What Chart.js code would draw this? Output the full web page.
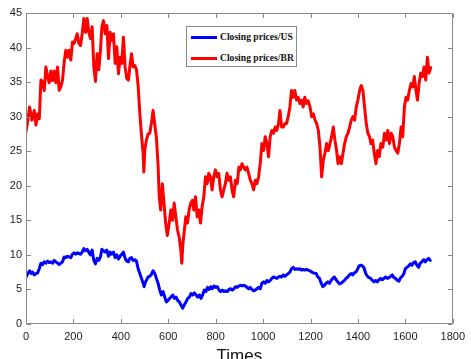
<!DOCTYPE html>
<html><head><meta charset="utf-8">
<script src="https://cdn.jsdelivr.net/npm/chart.js@4"></script>
<style>
html,body{margin:0;padding:0;background:#fff;overflow:hidden;}
#wrap{position:relative;width:471px;height:359px;}
#legend{position:absolute;left:186px;top:26px;width:111px;height:41px;border:1px solid #8a8a8a;background:#fff;box-sizing:border-box;font-family:"Liberation Serif","DejaVu Serif",serif;font-weight:bold;font-size:9.6px;color:#111;}
.row{position:absolute;left:0;width:100%;height:12px;}
.sw{position:absolute;left:4px;top:5px;width:26px;height:2.6px;}
.lab{position:absolute;left:33px;top:0;line-height:12px;white-space:nowrap;}
</style>
</head><body>
<div id="wrap">
<canvas id="c" width="471" height="359"></canvas>
<div id="legend">
  <div class="row" style="top:4px"><span class="sw" style="background:#0000ff"></span><span class="lab" id="l0"></span></div>
  <div class="row" style="top:25px"><span class="sw" style="background:#ff0000"></span><span class="lab" id="l1"></span></div>
</div>
</div>
<script>
const seriesNames = ["Closing prices/US", "Closing prices/BR"];
const xTicks = [0,200,400,600,800,1000,1200,1400,1600,1800];
const yTicks = [0,5,10,15,20,25,30,35,40,45];
const xLabel = "Times";

const usTimes = [0,8,15,22,28,35,42,49,56,63,70,77,84,91,98,105,112,119,126,133,140,147,154,161,168,175,182,189,196,203,210,216,223,230,237,244,251,258,265,272,279,286,293,300,307,314,320,327,334,341,348,355,362,369,376,383,390,397,404,411,418,425,432,438,445,452,459,466,473,480,487,494,498,504,515,522,529,536,543,550,557,564,571,578,585,592,599,606,612,619,626,633,640,647,654,661,668,675,682,689,696,703,710,717,724,731,738,745,752,759,766,773,780,786,793,800,807,814,821,828,835,842,849,856,863,870,877,884,891,898,904,911,918,925,932,939,946,953,960,967,974,981,988,995,1002,1009,1016,1023,1030,1037,1044,1051,1058,1065,1071,1078,1085,1092,1099,1106,1113,1120,1127,1134,1141,1148,1155,1162,1169,1176,1183,1197,1211,1224,1231,1238,1245,1252,1259,1266,1273,1280,1287,1294,1301,1308,1315,1322,1329,1336,1343,1350,1357,1364,1371,1378,1384,1391,1398,1405,1412,1419,1426,1433,1440,1447,1454,1461,1468,1475,1482,1489,1496,1503,1510,1517,1524,1531,1538,1545,1552,1559,1566,1573,1580,1587,1594,1600,1607,1614,1621,1628,1635,1642,1649,1656,1663,1670,1677,1684,1691,1698,1705];
const usPrices = [6.8,7.3,7.7,7.3,7.5,7.1,7.3,7.4,8.0,8.8,8.6,9.0,8.8,9.1,8.9,9.0,8.8,9.2,9.0,8.8,8.6,8.8,9.0,9.7,9.6,9.8,9.7,9.6,10.1,10.3,10.1,10.3,10.2,10.1,10.4,10.9,10.6,10.8,10.4,10.0,10.7,9.2,8.7,9.5,9.2,9.7,10.8,10.6,10.4,10.7,9.8,10.4,10.1,10.4,9.6,10.0,9.4,9.8,10.1,10.4,9.5,9.1,9.0,9.5,9.6,9.2,9.3,9.1,8.0,7.3,6.6,5.9,5.4,6.1,6.8,6.9,7.2,7.7,7.3,6.6,5.9,4.9,4.2,4.7,3.9,3.2,3.4,3.7,3.9,4.2,3.7,3.9,3.4,3.2,2.7,2.3,2.8,3.2,3.7,3.9,4.4,4.2,4.5,4.2,3.9,4.2,3.7,4.2,4.9,4.7,5.3,5.0,5.4,5.1,5.5,5.3,5.4,4.9,4.7,4.9,4.7,4.8,4.7,5.0,5.1,4.9,5.1,5.4,5.3,5.5,5.6,5.5,5.6,5.5,5.3,5.1,5.3,5.0,4.8,4.9,5.1,5.3,5.1,5.9,6.1,5.9,6.3,6.1,6.3,6.6,6.8,6.7,6.6,6.8,6.9,6.8,7.1,6.9,7.1,7.3,7.5,8.0,8.2,7.9,8.0,7.9,8.0,7.8,7.9,7.8,7.9,7.7,7.4,7.3,6.8,6.6,5.9,5.4,5.6,5.9,6.1,5.9,6.3,6.6,6.8,6.4,6.1,5.8,5.9,6.1,6.3,6.6,6.8,7.1,7.3,7.1,7.4,7.5,7.9,8.4,8.5,8.4,8.1,7.3,6.9,6.7,6.6,6.3,6.1,6.3,6.1,6.4,6.6,6.4,6.6,6.8,6.6,6.7,6.9,7.1,6.7,6.6,6.3,6.2,6.7,6.9,7.3,8.0,8.2,8.4,8.7,8.5,8.9,9.0,8.5,8.2,8.8,9.0,9.3,9.0,9.3,9.5,9.2];

const brTimes = [0,8,15,25,35,42,49,56,63,70,77,84,91,98,105,112,119,126,133,140,147,154,161,168,175,182,189,196,203,210,216,223,230,237,244,251,258,265,272,279,286,293,300,307,314,320,327,334,341,348,355,362,369,376,383,390,397,404,411,418,425,432,438,445,452,459,466,473,480,487,494,497,501,508,515,522,529,536,543,550,557,562,568,575,582,589,596,604,611,618,625,632,639,646,653,657,662,668,674,681,688,695,702,708,715,722,729,736,743,750,757,764,771,778,785,792,799,806,813,820,827,834,841,848,855,862,869,876,883,891,898,904,911,918,925,932,939,946,953,960,967,974,981,988,995,1002,1009,1016,1023,1030,1037,1044,1051,1058,1065,1071,1078,1085,1092,1099,1106,1113,1120,1127,1134,1141,1148,1155,1162,1169,1176,1183,1190,1198,1205,1212,1219,1226,1233,1240,1247,1254,1261,1268,1275,1282,1289,1296,1303,1310,1316,1323,1330,1337,1344,1351,1358,1365,1372,1379,1386,1393,1400,1407,1414,1421,1428,1435,1442,1449,1455,1462,1469,1476,1483,1490,1497,1505,1512,1519,1526,1533,1540,1547,1554,1561,1568,1575,1582,1589,1596,1603,1610,1617,1624,1631,1638,1645,1651,1658,1665,1672,1679,1686,1693,1700,1707];
const brPrices = [27.8,29.5,31.4,29.5,30.9,28.8,30.4,29.7,35.3,35.0,33.8,37.2,35.8,34.9,36.6,35.2,36.6,34.9,37.2,33.8,34.3,35.3,37.9,39.6,38.6,39.6,38.2,40.8,40.6,41.3,42.0,40.6,40.3,42.0,44.2,42.2,44.2,42.2,41.3,43.0,37.2,35.1,39.1,36.8,39.6,43.0,43.9,42.0,43.2,38.4,42.2,41.0,42.0,37.7,40.1,36.2,38.6,37.7,41.5,37.2,35.5,35.3,37.2,39.1,37.2,37.4,36.8,34.5,30.5,27.4,24.7,22.0,25.2,26.6,27.5,27.6,29.0,30.9,28.9,27.0,23.0,18.4,16.5,20.3,17.5,14.6,12.8,14.6,16.5,15.0,17.5,15.5,13.6,12.6,10.7,8.8,11.7,13.6,15.5,14.6,16.5,17.5,17.9,16.5,18.4,15.5,16.5,14.6,17.0,18.4,21.3,20.3,21.8,21.3,19.4,21.3,22.3,21.3,21.8,19.4,18.4,19.4,20.3,21.8,20.8,21.3,19.4,18.4,20.8,20.3,22.7,22.3,23.2,22.7,22.3,22.7,21.8,20.8,20.3,19.4,20.8,20.3,21.3,23.2,26.1,25.1,27.1,26.1,24.2,27.1,28.0,27.6,28.5,28.0,29.0,30.9,28.5,28.5,29.0,29.0,30.0,31.4,33.8,32.8,33.8,32.4,32.8,31.9,32.4,31.4,32.8,31.9,32.3,31.4,30.0,30.4,29.5,29.0,28.0,25.6,21.3,23.7,24.7,26.1,25.1,26.1,27.1,28.5,26.6,25.1,23.2,24.2,23.2,24.7,26.1,27.1,27.6,28.5,29.5,30.0,29.5,31.4,32.4,33.8,34.5,33.8,31.4,29.0,27.6,27.1,26.1,26.6,24.7,23.2,25.1,24.2,26.1,25.6,27.6,26.6,28.0,26.1,27.6,27.1,25.6,25.1,24.7,26.1,28.5,27.1,31.4,32.8,32.4,33.8,34.8,34.3,35.8,33.8,32.4,34.8,36.3,35.8,37.2,35.3,38.6,36.3,37.1];

document.getElementById('l0').textContent = seriesNames[0];
document.getElementById('l1').textContent = seriesNames[1];

const toXY = (ts, vs) => ts.map((t, i) => ({x: t, y: vs[i]}));

const frame = {
  id: 'frame',
  afterDatasetsDraw(chart) {
    const {ctx, chartArea: a, scales: {x, y}} = chart;
    const L = Math.round(a.left) + 0.5, R = Math.round(a.right) - 0.5;
    const T = Math.round(a.top) + 0.5, B = Math.round(a.bottom) - 0.5;
    const tl = 4.5;
    ctx.save();
    ctx.strokeStyle = '#8a8a8a';
    ctx.lineWidth = 1;
    ctx.beginPath();
    ctx.rect(L, T, R - L, B - T);
    xTicks.forEach(v => {
      const px = Math.round(x.getPixelForValue(v)) + 0.5;
      ctx.moveTo(px, B); ctx.lineTo(px, B - tl);
      ctx.moveTo(px, T); ctx.lineTo(px, T + tl);
    });
    yTicks.forEach(v => {
      const py = Math.round(y.getPixelForValue(v)) + 0.5;
      ctx.moveTo(L, py); ctx.lineTo(L + tl, py);
      ctx.moveTo(R, py); ctx.lineTo(R - tl, py);
    });
    ctx.stroke();
    ctx.restore();
  }
};

const tickFont = {family: '"Liberation Sans", Arial, sans-serif', size: 11};

new Chart(document.getElementById('c'), {
  type: 'line',
  data: {
    datasets: [
      {label: seriesNames[0], data: toXY(usTimes, usPrices), borderColor: '#0000ff', borderWidth: 3, borderJoinStyle: 'round', borderCapStyle: 'round', pointRadius: 0, tension: 0, fill: false},
      {label: seriesNames[1], data: toXY(brTimes, brPrices), borderColor: '#ff0000', borderWidth: 3, borderJoinStyle: 'round', borderCapStyle: 'round', pointRadius: 0, tension: 0, fill: false}
    ]
  },
  options: {
    responsive: false,
    animation: false,
    devicePixelRatio: 1,
    layout: {padding: {left: 0, top: 13, right: 13, bottom: 0}},
    plugins: {legend: {display: false}, tooltip: {enabled: false}},
    scales: {
      x: {
        type: 'linear', min: 0, max: 1800,
        afterBuildTicks: s => { s.ticks = xTicks.map(v => ({value: v})); },
        grid: {display: false, drawTicks: false},
        border: {display: false},
        ticks: {color: '#222', font: tickFont, padding: 6, maxRotation: 0, autoSkip: false, callback: v => String(v)},
        title: {display: true, text: xLabel, color: '#111', font: {family: '"Liberation Sans", Arial, sans-serif', size: 17}, padding: {top: 0, bottom: -8}},
        afterFit: s => { s.height = 35; }
      },
      y: {
        type: 'linear', min: 0, max: 45,
        afterBuildTicks: s => { s.ticks = yTicks.map(v => ({value: v})); },
        grid: {display: false, drawTicks: false},
        border: {display: false},
        ticks: {color: '#222', font: tickFont, padding: 4, autoSkip: false, callback: v => String(v)},
        afterFit: s => { s.width = 26; }
      }
    }
  },
  plugins: [frame]
});
</script>
</body></html>
